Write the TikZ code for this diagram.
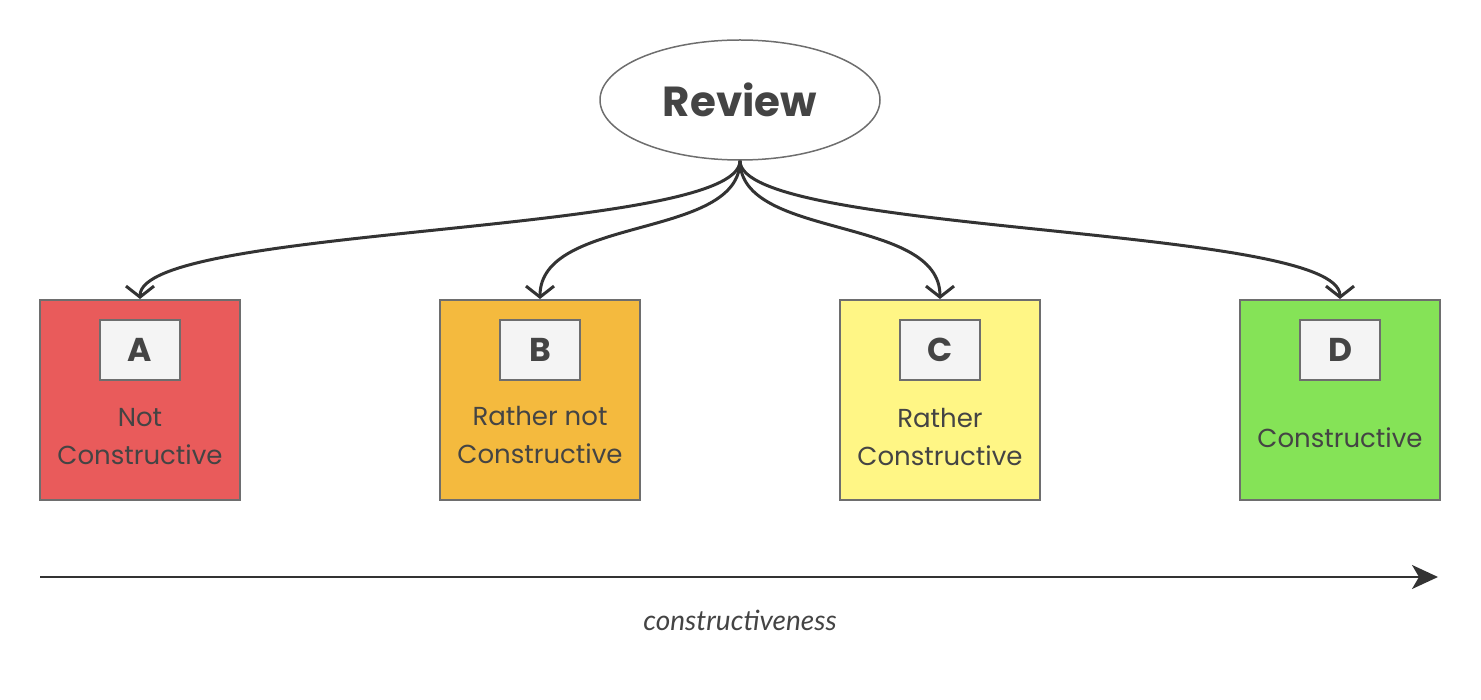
\documentclass[tikz,border=0pt]{standalone}
\usepackage{fontspec}
\setmainfont{Poppins}
\newfontfamily\italfont{Lato}
\usetikzlibrary{arrows.meta,shapes.geometric}
\definecolor{txt}{HTML}{444444}
\definecolor{bord}{HTML}{6E6E6E}
\definecolor{lnk}{HTML}{333333}
\definecolor{cA}{HTML}{E95B5B}
\definecolor{cB}{HTML}{F4BA3E}
\definecolor{cC}{HTML}{FFF685}
\definecolor{cD}{HTML}{85E357}
\definecolor{inner}{HTML}{F4F4F4}
\tikzset{
  px/.style={x=1pt,y=-1pt},
  card/.style={draw=bord,line width=2pt,minimum width=200pt,minimum height=200pt,inner sep=0pt},
  tag/.style={draw=bord,line width=2pt,fill=inner,minimum width=80pt,minimum height=60pt,inner sep=0pt,text=txt,font=\fontsize{33}{33}\selectfont\bfseries},
  lbl/.style={text=txt,align=center,font=\fontsize{26}{38}\selectfont},
  link/.style={draw=lnk,line width=3pt,-{Straight Barb[length=11pt,width=28pt,line width=3pt]}},
}
\begin{document}
\begin{tikzpicture}[px]
\useasboundingbox (0,0) rectangle (1481,700);
\node[ellipse,draw=bord,line width=1.5pt,minimum width=280pt,minimum height=120pt,inner sep=0pt,text=txt,font=\fontsize{42}{42}\selectfont\bfseries] (rev) at (740,100) {Review};
\node[card,fill=cA] (A) at (140,400) {};
\node[card,fill=cB] (B) at (540,400) {};
\node[card,fill=cC] (C) at (940,400) {};
\node[card,fill=cD] (D) at (1340,400) {};
\node[tag] (tA) at (140,350) {A};
\node[tag] (tB) at (540,350) {B};
\node[tag] (tC) at (940,350) {C};
\node[tag] (tD) at (1340,350) {D};
\node[lbl] (lA) at (140,437) {Not\\Constructive};
\node[lbl] (lB) at (540,435) {Rather not\\Constructive};
\node[lbl] (lC) at (940,437) {Rather\\Constructive};
\node[lbl] (lD) at (1340,438) {Constructive};
\coordinate (src) at (rev.south);
\draw[link] (src) .. controls (740,235) and (140,225) .. (A.north);
\draw[link] (src) .. controls (740,240) and (540,215) .. (B.north);
\draw[link] (src) .. controls (740,240) and (940,215) .. (C.north);
\draw[link] (src) .. controls (740,235) and (1340,225) .. (D.north);
\coordinate (ax0) at (40,577);
\coordinate (ax1) at (1438,577);
\draw[draw=lnk,line width=2pt,-{Stealth[length=26pt,width=24pt,inset=7pt]}] (ax0) -- (ax1);
\node[text=txt,font=\italfont\itshape\fontsize{28}{28}\selectfont] (ax) at (740,620) {constructiveness};
\end{tikzpicture}
\end{document}
